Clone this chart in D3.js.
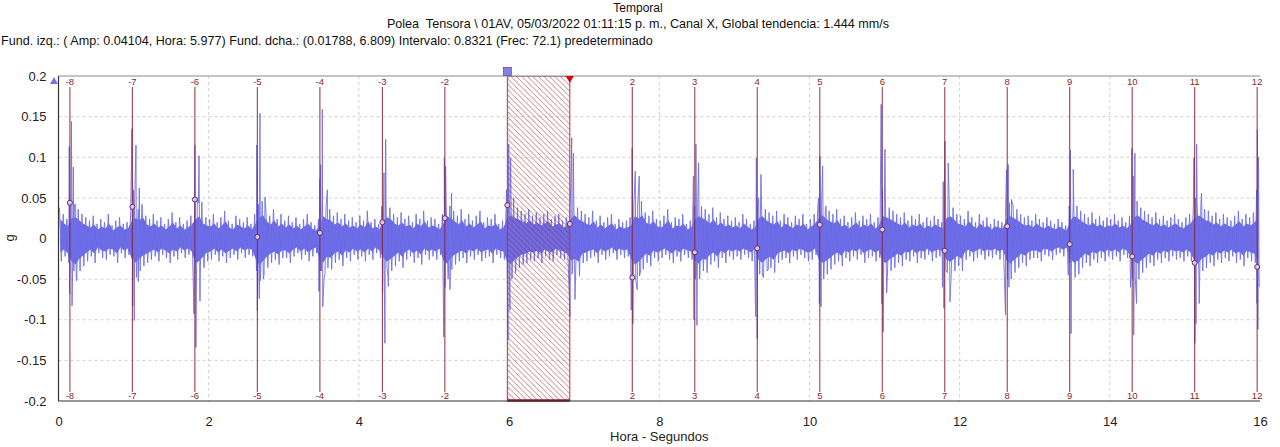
<!DOCTYPE html>
<html>
<head>
<meta charset="utf-8">
<script src="https://cdn.jsdelivr.net/npm/d3@7"></script>
<style>
  body { margin: 0; background: #fff; }
  svg { display: block; font-family: "Liberation Sans", Arial, sans-serif; }
</style>
</head>
<body>
<div id="chart"></div>
<script>
const titleLines = [
  "Temporal",
  "Polea  Tensora \\ 01AV, 05/03/2022 01:11:15 p. m., Canal X, Global tendencia: 1.444 mm/s",
  "Fund. izq.: ( Amp: 0.04104, Hora: 5.977) Fund. dcha.: (0.01788, 6.809) Intervalo: 0.8321 (Frec: 72.1) predeterminado"
];
const xTitle = "Hora - Segundos";
const yTitle = "g";
const xTicks = [0, 2, 4, 6, 8, 10, 12, 14, 16];
const yTicks = [0.2, 0.15, 0.1, 0.05, 0, -0.05, -0.1, -0.15, -0.2];
const yTickLabels = ["0.2", "0.15", "0.1", "0.05", "0", "-0.05", "-0.1", "-0.15", "-0.2"];

// trace envelope, one pair per 0.05 s bin, in milli-g (upper / lower extreme)
const binWidth = 0.05;
const envHi = [
  38,30,24,40,42,36,30,26,22,28,18,24,20,30,16,22,26,18,20,34,
  40,36,42,28,24,30,22,26,18,24,32,20,26,18,22,28,38,44,30,26,
  24,30,20,26,34,22,18,28,24,20,26,18,30,42,46,34,28,36,24,30,
  22,28,20,26,18,24,30,20,16,24,44,38,36,28,32,24,30,22,26,20,
  28,22,34,20,24,18,36,42,38,30,26,32,24,28,20,30,24,34,22,26,
  24,18,30,44,40,34,28,36,24,30,22,28,34,20,26,24,30,18,22,40,
  46,40,38,34,30,36,28,32,26,30,34,24,28,30,22,26,40,46,38,34,
  30,26,34,22,28,20,26,30,18,24,20,22,26,44,40,46,32,28,34,24,
  22,28,36,20,26,24,30,18,22,38,44,40,36,30,38,26,32,24,28,22,
  26,20,30,24,18,22,40,44,36,32,28,34,22,30,26,20,28,24,30,18,
  24,30,40,46,38,34,30,36,24,28,20,26,32,22,28,24,30,20,26,44,
  42,38,34,30,26,32,22,28,24,30,20,26,22,28,24,20,40,44,38,30,
  28,24,34,26,20,30,22,26,18,24,22,20,38,44,40,36,30,26,28,22,
  30,24,20,26,22,18,24,20,16,36,44,40,34,30,26,32,24,28,22,26,
  24,30,22,26,20,28,42,46,38,34,30,26,32,24,28,22,26,30,24,20,
  26,30,40,46,42,36,34,28,32,24,30,26,22,28,34,24,30,26,32,40
];
const envLo = [
  -28,-22,-30,-45,-52,-40,-34,-28,-22,-30,-18,-24,-26,-20,-22,-30,-18,-24,-20,-40,
  -48,-40,-34,-30,-26,-22,-28,-20,-24,-30,-22,-26,-18,-24,-20,-26,-50,-44,-36,-28,
  -26,-20,-28,-22,-30,-24,-20,-26,-18,-24,-20,-22,-40,-52,-44,-36,-30,-26,-32,-24,
  -24,-30,-22,-18,-26,-20,-28,-22,-18,-40,-48,-36,-38,-30,-26,-34,-24,-28,-20,-26,
  -22,-28,-20,-26,-18,-24,-38,-46,-40,-34,-28,-36,-26,-22,-30,-24,-32,-20,-26,-22,
  -26,-20,-44,-50,-38,-32,-28,-24,-30,-22,-26,-20,-28,-24,-22,-30,-20,-24,-26,-46,
  -50,-42,-36,-32,-30,-26,-28,-24,-30,-22,-26,-28,-20,-24,-26,-30,-44,-40,-46,-30,
  -28,-24,-22,-30,-20,-26,-22,-18,-26,-20,-24,-22,-40,-52,-46,-38,-30,-34,-24,-28,
  -24,-20,-26,-30,-22,-28,-20,-24,-26,-44,-50,-40,-42,-32,-28,-36,-24,-30,-22,-26,
  -22,-26,-20,-24,-28,-20,-44,-48,-40,-36,-42,-30,-26,-24,-30,-22,-26,-20,-24,-28,
  -26,-20,-42,-48,-44,-38,-32,-28,-34,-24,-28,-22,-26,-20,-30,-24,-22,-28,-24,-46,
  -48,-40,-36,-30,-34,-26,-28,-22,-30,-24,-26,-20,-28,-24,-22,-26,-42,-46,-40,-34,
  -40,-26,-22,-28,-24,-20,-26,-22,-24,-20,-26,-22,-44,-50,-42,-36,-30,-34,-26,-24,
  -24,-28,-20,-22,-26,-20,-18,-22,-18,-40,-48,-44,-36,-30,-34,-26,-30,-24,-28,-22,
  -26,-22,-28,-20,-24,-34,-46,-50,-42,-36,-30,-34,-26,-30,-24,-28,-22,-26,-24,-28,
  -22,-28,-44,-50,-40,-36,-30,-34,-26,-30,-24,-28,-22,-30,-26,-34,-24,-28,-30,-44
];

// impact spikes (time s, value g)
const spikeT = [
  0.143,0.149,0.173,0.180,0.197,0.205,0.228,0.242,
  0.977,0.988,0.999,1.009,1.032,1.041,1.063,1.076,
  1.804,1.817,1.830,1.849,1.871,1.884,1.909,
  2.640,2.648,2.674,2.683,2.693,2.728,2.750,
  3.469,3.481,3.491,3.501,3.513,3.519,3.549,3.580,
  4.304,4.316,4.334,4.347,4.357,4.374,4.392,
  5.130,5.138,5.147,5.155,5.191,5.213,5.235,
  5.966,5.986,5.995,6.005,6.012,6.021,6.041,6.061,
  6.811,6.824,6.834,6.845,6.856,6.878,
  7.627,7.639,7.649,7.681,7.707,7.734,7.752,
  8.455,8.462,8.472,8.480,8.488,8.502,8.524,8.542,
  9.283,9.293,9.305,9.323,9.354,9.373,9.452,
  10.122,10.132,10.140,10.154,10.176,10.192,10.222,
  10.955,10.965,10.973,10.983,11.006,11.028,
  11.773,11.782,11.791,11.804,11.818,11.848,11.871,
  12.611,12.625,12.638,12.647,12.656,12.692,
  13.447,13.458,13.468,13.476,13.484,13.513,13.535,
  14.276,14.294,14.304,14.312,14.318,14.334,14.356,
  15.120,15.133,15.141,15.148,15.156,15.191,15.222,
  15.955,15.960,15.965,15.972,15.980,15.990
];
const spikeV = [
  0.113,-0.068,0.144,-0.083,0.088,-0.040,0.042,-0.052,
  0.135,-0.083,0.060,-0.101,0.115,-0.045,-0.053,0.062,
  -0.093,0.115,-0.134,0.050,0.102,-0.077,0.045,
  0.115,-0.089,-0.074,0.154,-0.040,-0.050,0.051,
  -0.065,0.073,0.091,-0.040,0.159,-0.084,-0.043,0.060,
  0.040,-0.067,0.081,-0.129,0.122,-0.035,-0.059,
  -0.121,0.099,-0.060,0.089,-0.047,-0.063,0.056,
  0.060,-0.125,0.116,-0.050,-0.088,0.099,-0.045,0.050,
  -0.096,0.070,0.124,-0.040,0.105,-0.075,
  -0.088,0.111,-0.105,0.083,-0.063,0.077,-0.040,
  0.077,-0.100,0.040,-0.050,0.116,-0.107,0.093,-0.043,
  -0.096,0.099,-0.123,0.050,0.079,-0.045,-0.038,
  0.050,-0.080,0.101,-0.084,0.089,-0.050,0.040,
  0.165,-0.080,0.060,-0.115,0.110,-0.067,
  -0.060,0.070,-0.086,0.120,-0.040,0.093,-0.078,
  -0.094,0.085,-0.050,0.091,-0.060,0.048,
  -0.045,0.040,-0.030,0.109,-0.117,0.085,-0.040,
  -0.060,0.111,-0.050,0.077,-0.119,0.105,-0.080,
  0.099,-0.129,0.050,-0.105,0.116,-0.080,0.056,
  0.060,-0.080,0.134,-0.112,0.100,-0.060
];

// harmonic cursors
const cursorLabels = [-8,-7,-6,-5,-4,-3,-2,2,3,4,5,6,7,8,9,10,11,12];
const cursorT = [0.152,0.984,1.816,2.648,3.481,4.313,5.145,7.641,8.473,9.305,10.138,10.970,11.802,12.634,13.466,14.298,15.130,15.962];
const cursorV = [0.044,0.039,0.048,0.002,0.007,0.020,0.025,-0.048,-0.017,-0.012,0.017,0.011,-0.015,0.015,-0.007,-0.022,-0.030,-0.035];
const fundT = [5.977, 6.809];
const fundV = [0.04104, 0.01788];

const width = 1280, height = 447;
const plotL = 58.5, plotR = 1260, plotT = 76, plotB = 401;

const x = d3.scaleLinear().domain([0, 16]).range([plotL, plotR]);
const y = d3.scaleLinear().domain([-0.2, 0.2]).range([plotB, plotT]);

const svg = d3.select("#chart").append("svg")
  .attr("width", width)
  .attr("height", height);

const defs = svg.append("defs");
defs.append("clipPath").attr("id", "plotClip")
  .append("rect")
  .attr("x", plotL).attr("y", plotT)
  .attr("width", plotR - plotL).attr("height", plotB - plotT);

const hatch = defs.append("pattern")
  .attr("id", "hatch")
  .attr("patternUnits", "userSpaceOnUse")
  .attr("width", 5.5).attr("height", 5.5);
hatch.append("path")
  .attr("d", "M0,0 L5.5,5.5 M-1,4.5 L1,6.5 M4.5,-1 L6.5,1")
  .attr("stroke", "#9b2b33")
  .attr("stroke-width", 0.6);

// titles
svg.selectAll(".title")
  .data(titleLines)
  .enter().append("text")
  .attr("class", "title")
  .attr("x", (d, i) => i === 2 ? 1 : 638)
  .attr("y", (d, i) => [12, 28, 45][i])
  .attr("text-anchor", (d, i) => i === 2 ? "start" : "middle")
  .attr("font-size", (d, i) => i === 0 ? 12 : 12.6)
  .attr("fill", "#111")
  .style("white-space", "pre")
  .text(d => d);

// grid
const grid = svg.append("g").attr("stroke", "#cfcfcf").attr("stroke-dasharray", "3,3");
grid.selectAll(".hg")
  .data(yTicks.filter(d => Math.abs(d) < 0.2))
  .enter().append("line")
  .attr("x1", plotL).attr("x2", plotR)
  .attr("y1", d => y(d)).attr("y2", d => y(d));
grid.selectAll(".vg")
  .data(xTicks.filter(d => d > 0 && d < 16))
  .enter().append("line")
  .attr("y1", plotT).attr("y2", plotB)
  .attr("x1", d => x(d)).attr("x2", d => x(d));

// signal
const bins = envHi.map((h, i) => ({ t: i * binWidth, hi: h / 1000, lo: envLo[i] / 1000 }));
const points = [];
bins.forEach(b => {
  points.push({ t: b.t + binWidth * 0.25, v: b.hi });
  points.push({ t: b.t + binWidth * 0.75, v: b.lo });
});
spikeT.forEach((t, i) => points.push({ t: t, v: spikeV[i] }));
points.sort((a, b) => a.t - b.t);

const plot = svg.append("g").attr("clip-path", "url(#plotClip)");

// dense core of the trace
plot.append("path")
  .datum(bins)
  .attr("fill", "#6a6ae6")
  .attr("d", d3.area()
    .x(d => x(d.t + binWidth / 2))
    .y0(d => y(d.lo * 0.62))
    .y1(d => y(d.hi * 0.62)));

plot.append("path")
  .datum(points)
  .attr("fill", "none")
  .attr("stroke", "#6f6fe8")
  .attr("stroke-width", 0.9)
  .attr("stroke-linejoin", "round")
  .attr("d", d3.line().x(d => x(d.t)).y(d => y(d.v)));

// fundamental band
plot.append("rect")
  .attr("x", x(fundT[0]))
  .attr("y", plotT)
  .attr("width", x(fundT[1]) - x(fundT[0]))
  .attr("height", plotB - plotT)
  .attr("fill", "url(#hatch)")
  .attr("stroke", "#b8343a")
  .attr("stroke-width", 1);
svg.append("line")
  .attr("x1", x(fundT[0])).attr("x2", x(fundT[1]))
  .attr("y1", plotB - 0.5).attr("y2", plotB - 0.5)
  .attr("stroke", "#8b1a24").attr("stroke-width", 2.5);

// harmonic cursors
const cur = svg.append("g");
cur.selectAll(".cl")
  .data(cursorT)
  .enter().append("line")
  .attr("x1", d => x(d)).attr("x2", d => x(d))
  .attr("y1", 87).attr("y2", 392)
  .attr("stroke", "#8b1e30")
  .attr("stroke-opacity", 0.85)
  .attr("stroke-width", 1.1);
cur.selectAll(".ct")
  .data(cursorLabels)
  .enter().append("text")
  .attr("x", (d, i) => x(cursorT[i]))
  .attr("y", 85)
  .attr("text-anchor", "middle")
  .attr("font-size", 9.5)
  .attr("fill", "#8b1e30")
  .text(d => d);
cur.selectAll(".cb")
  .data(cursorLabels)
  .enter().append("text")
  .attr("x", (d, i) => x(cursorT[i]))
  .attr("y", 399)
  .attr("text-anchor", "middle")
  .attr("font-size", 9.5)
  .attr("fill", "#8b1e30")
  .text(d => d);

const markT = cursorT.concat(fundT);
const markV = cursorV.concat(fundV);
cur.selectAll(".cm")
  .data(markT)
  .enter().append("circle")
  .attr("cx", d => x(d))
  .attr("cy", (d, i) => y(markV[i]))
  .attr("r", 2.5)
  .attr("fill", "#d9cbe6")
  .attr("stroke", "#6e2a66")
  .attr("stroke-width", 1);

// frame
svg.append("line").attr("x1", plotL).attr("x2", plotR).attr("y1", plotT).attr("y2", plotT)
  .attr("stroke", "#8a8a8a").attr("stroke-width", 1.2);
svg.append("line").attr("x1", plotL).attr("x2", plotL).attr("y1", plotT).attr("y2", plotB)
  .attr("stroke", "#333").attr("stroke-width", 1.2);
svg.append("line").attr("x1", plotL).attr("x2", plotR).attr("y1", plotB).attr("y2", plotB)
  .attr("stroke", "#333").attr("stroke-width", 1.2);

// axes labels
const yAxis = svg.append("g")
  .attr("transform", `translate(${plotL},0)`)
  .call(d3.axisLeft(y).tickValues(yTicks).tickSize(0).tickPadding(12)
    .tickFormat((d, i) => yTickLabels[i]));
yAxis.select(".domain").remove();
yAxis.selectAll("text").attr("font-size", 13).attr("fill", "#222")
  .attr("font-family", "Liberation Sans, Arial, sans-serif");

const xAxis = svg.append("g")
  .attr("transform", `translate(0,${plotB})`)
  .call(d3.axisBottom(x).tickValues(xTicks).tickSize(0).tickPadding(16)
    .tickFormat(d3.format("d")));
xAxis.select(".domain").remove();
xAxis.selectAll("text").attr("font-size", 13).attr("fill", "#222")
  .attr("font-family", "Liberation Sans, Arial, sans-serif");

svg.append("text")
  .attr("x", (plotL + plotR) / 2).attr("y", 441)
  .attr("text-anchor", "middle")
  .attr("font-size", 13).attr("fill", "#222")
  .text(xTitle);
svg.append("text")
  .attr("transform", "translate(14,238) rotate(-90)")
  .attr("text-anchor", "middle")
  .attr("font-size", 13).attr("fill", "#222")
  .text(yTitle);

// cursor handles
svg.append("path")
  .attr("d", "M50,84 L58,84 L54,77 Z")
  .attr("fill", "#7373e2");
svg.append("rect")
  .attr("x", x(fundT[0]) - 4).attr("y", 67.5)
  .attr("width", 8).attr("height", 8)
  .attr("fill", "#8a80e2").attr("stroke", "#5a4fb0").attr("stroke-width", 0.8);
svg.append("path")
  .attr("d", `M${x(fundT[1]) - 4},76 L${x(fundT[1]) + 4},76 L${x(fundT[1])},83 Z`)
  .attr("fill", "#e00000");
</script>
</body>
</html>
